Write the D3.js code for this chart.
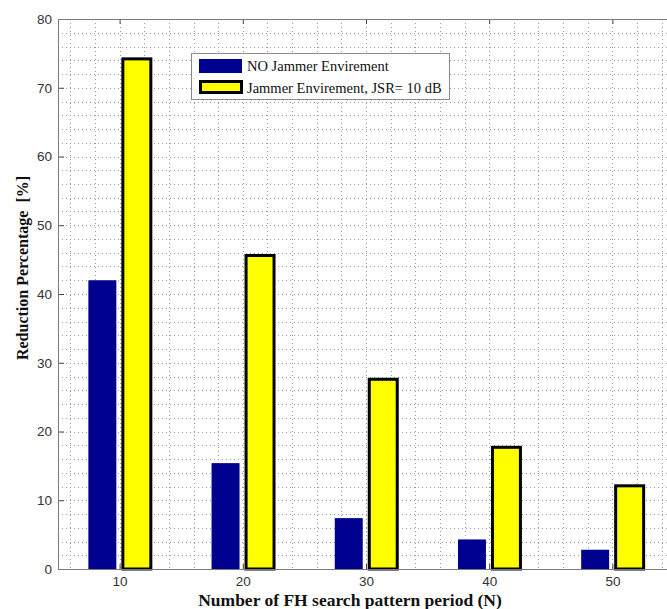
<!DOCTYPE html>
<html>
<head>
<meta charset="utf-8">
<script src="https://cdn.jsdelivr.net/npm/d3@7/dist/d3.min.js"></script>
<style>
  html, body { margin: 0; padding: 0; background: #fff; }
  svg { display: block; }
</style>
</head>
<body>
<script>
// Reduction percentage per search pattern period
const periods = [10, 20, 30, 40, 50];
const noJammer = [42.0, 15.4, 7.4, 4.3, 2.8];
const withJammer = [74.2, 45.6, 27.6, 17.7, 12.1];
const seriesNames = ["NO Jammer Envirement", "Jammer Envirement, JSR= 10 dB"];
const yTicks = [0, 10, 20, 30, 40, 50, 60, 70, 80];

const W = 667, H = 609;
const svg = d3.select("body").append("svg").attr("width", W).attr("height", H);

const mLeft = 58, mTop = 19, mBottom = 569, mRight = 667;
// axis box spans x 5..55; the right part runs past the page edge
const x = d3.scaleLinear().domain([5, 55]).range([mLeft, mLeft + 50 * 12.32]);
const y = d3.scaleLinear().domain([0, 80]).range([mBottom, mTop]);

// dotted grid every 2 units on both axes
const gx = d3.range(6, 55, 2);
const gy = d3.range(2, 80, 2);
const grid = svg.append("g").attr("stroke", "#9a9a9a").attr("stroke-width", 1)
  .attr("stroke-dasharray", "1,3").attr("fill", "none");
grid.selectAll("line.v").data(gx).join("line").attr("class", "v")
  .attr("x1", d => Math.round(x(d)) + 0.5).attr("x2", d => Math.round(x(d)) + 0.5)
  .attr("y1", mTop).attr("y2", mBottom);
grid.selectAll("line.h").data(gy).join("line").attr("class", "h")
  .attr("y1", d => Math.round(y(d)) + 0.5).attr("y2", d => Math.round(y(d)) + 0.5)
  .attr("x1", mLeft).attr("x2", mRight);

// grouped bars
const barW = 2.27, off = 1.4;
svg.append("g").selectAll("rect").data(periods).join("rect")
  .attr("x", d => x(d - off - barW / 2))
  .attr("width", d => x(d - off + barW / 2) - x(d - off - barW / 2))
  .attr("y", (d, i) => y(noJammer[i]))
  .attr("height", (d, i) => y(0) - y(noJammer[i]))
  .attr("fill", "#00008f");

svg.append("g").selectAll("rect").data(periods).join("rect")
  .attr("x", d => x(d + off - barW / 2))
  .attr("width", d => x(d + off + barW / 2) - x(d + off - barW / 2))
  .attr("y", (d, i) => y(withJammer[i]))
  .attr("height", (d, i) => y(0) - y(withJammer[i]))
  .attr("fill", "#ffff00").attr("stroke", "#000").attr("stroke-width", 3);

// axes
const axisColor = "#7a7a7a";
const yAxis = svg.append("g").attr("transform", `translate(${mLeft},0)`)
  .call(d3.axisLeft(y).tickValues(yTicks).tickSize(-6).tickPadding(6));
const xAxis = svg.append("g").attr("transform", `translate(0,${mBottom})`)
  .call(d3.axisBottom(x).tickValues(periods).tickSize(-5).tickPadding(7));
const xTop = svg.append("g").attr("transform", `translate(0,${mTop})`)
  .call(d3.axisTop(x).tickValues(periods).tickSize(-5).tickFormat(""));
[yAxis, xAxis, xTop].forEach(a => {
  a.select(".domain").remove();
  a.selectAll(".tick line").attr("stroke", "#444");
  a.selectAll(".tick text").attr("font-family", "Liberation Sans, Arial, sans-serif")
    .attr("font-size", 13.5).attr("fill", "#333");
});

// box edges (left, top, bottom)
svg.append("line").attr("x1", mLeft + 0.5).attr("x2", mLeft + 0.5).attr("y1", mTop).attr("y2", mBottom)
  .attr("stroke", axisColor);
svg.append("line").attr("x1", mLeft).attr("x2", mRight).attr("y1", mTop + 0.5).attr("y2", mTop + 0.5)
  .attr("stroke", axisColor);
svg.append("line").attr("x1", mLeft).attr("x2", mRight).attr("y1", mBottom + 0.5).attr("y2", mBottom + 0.5)
  .attr("stroke", axisColor);

// axis titles
svg.append("text").attr("x", 350).attr("y", 605.5).attr("text-anchor", "middle")
  .attr("font-family", "Liberation Serif, Times New Roman, serif").attr("font-weight", "bold")
  .attr("font-size", 17.5).attr("fill", "#111")
  .text("Number of FH search pattern period (N)");
svg.append("text").attr("transform", "translate(28,268) rotate(-90)").attr("text-anchor", "middle")
  .attr("font-family", "Liberation Serif, Times New Roman, serif").attr("font-weight", "bold")
  .attr("font-size", 16).attr("fill", "#111")
  .style("white-space", "pre")
  .text("Reduction Percentage  [%]");

// legend
const lg = svg.append("g");
lg.append("rect").attr("x", 191.5).attr("y", 53.5).attr("width", 258).attr("height", 46)
  .attr("fill", "#fff").attr("stroke", "#8a8a8a");
lg.append("rect").attr("x", 199).attr("y", 59).attr("width", 43).attr("height", 14).attr("fill", "#00008f");
lg.append("rect").attr("x", 200.5).attr("y", 81.5).attr("width", 41).attr("height", 11)
  .attr("fill", "#ffff00").attr("stroke", "#000").attr("stroke-width", 3);
lg.selectAll("text").data(seriesNames).join("text")
  .attr("x", 247).attr("y", (d, i) => 71 + i * 22)
  .attr("font-family", "Liberation Serif, Times New Roman, serif").attr("font-size", 14.5)
  .attr("fill", "#111").text(d => d);
</script>
</body>
</html>
